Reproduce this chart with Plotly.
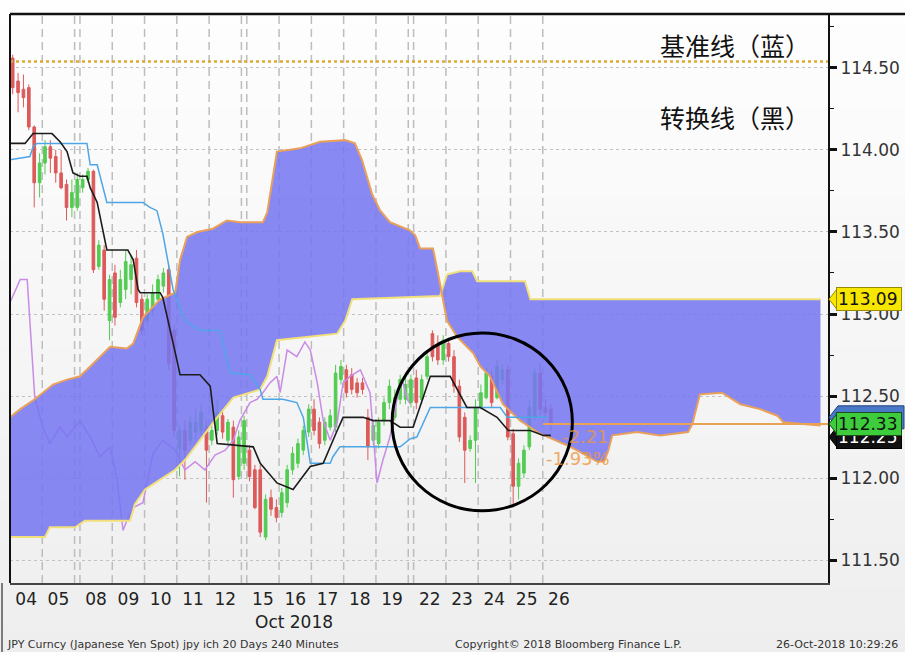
import plotly.graph_objects as go

# ---------------- data ----------------
days = ['04', '05', '08', '09', '10', '11', '12', '15', '16', '17', '18', '19',
        '22', '23', '24', '25', '26']
weekend_after = ['05', '12', '19']
bars_per_day = 6
month_label = 'Oct 2018'

opens = [114.56, 114.42, 114.37, 114.38, 114.14, 113.80, 113.92, 114.02, 113.96, 113.86,
         113.79, 113.65, 113.65, 113.77, 113.82, 113.87, 113.29, 113.39, 112.96, 113.25,
         113.07, 113.15, 113.21, 113.34, 113.09, 112.96, 113.02, 113.09, 113.17, 113.27,
         112.90, 112.18, 112.29, 112.23, 112.28, 112.29, 112.31, 112.23, 112.29, 112.38,
         112.23, 112.31, 112.01, 112.09, 112.17, 112.05, 112.05, 111.64, 111.88, 111.82,
         111.79, 111.85, 112.05, 112.09, 112.17, 112.28, 112.42, 112.34, 112.23, 112.31,
         112.31, 112.60, 112.66, 112.63, 112.58, 112.58, 112.37, 112.23, 112.21, 112.35,
         112.46, 112.37, 112.48, 112.48, 112.46, 112.61, 112.48, 112.62, 112.88, 112.81,
         112.72, 112.82, 112.74, 112.56, 112.37, 112.18, 112.23, 112.43, 112.49, 112.62,
         112.49, 112.60, 112.66, 112.27, 111.95, 112.03, 112.19, 112.37, 112.64, 112.43,
         112.42]
highs = [114.58, 114.47, 114.46, 114.40, 114.15, 113.98, 114.06, 114.06, 114.00, 114.00,
         113.82, 113.82, 113.86, 113.85, 113.89, 113.88, 113.45, 113.42, 113.24, 113.30,
         113.27, 113.39, 113.36, 113.39, 113.12, 113.12, 113.18, 113.24, 113.28, 113.30,
         112.93, 112.32, 112.35, 112.38, 112.42, 112.45, 112.35, 112.32, 112.48, 112.42,
         112.36, 112.35, 112.29, 112.38, 112.20, 112.08, 112.08, 111.90, 111.93, 111.87,
         111.94, 112.08, 112.19, 112.24, 112.32, 112.45, 112.48, 112.37, 112.37, 112.42,
         112.69, 112.72, 112.69, 112.67, 112.61, 112.61, 112.42, 112.35, 112.37, 112.49,
         112.60, 112.54, 112.63, 112.61, 112.63, 112.66, 112.63, 112.78, 112.90, 112.87,
         112.87, 112.85, 112.78, 112.60, 112.40, 112.26, 112.48, 112.57, 112.67, 112.66,
         112.72, 112.69, 112.69, 112.30, 112.12, 112.20, 112.48, 112.67, 112.70, 112.48,
         112.45]
lows = [114.34, 114.23, 114.26, 114.12, 113.65, 113.71, 113.85, 113.86, 113.80, 113.76,
        113.57, 113.59, 113.63, 113.74, 113.80, 113.25, 113.27, 113.02, 112.84, 112.93,
        113.04, 113.09, 113.12, 113.04, 112.87, 112.93, 112.99, 113.06, 113.13, 112.66,
        112.25, 112.01, 111.99, 112.20, 112.23, 112.26, 111.85, 112.20, 112.26, 112.24,
        112.20, 111.88, 111.99, 112.05, 111.98, 111.81, 111.64, 111.62, 111.77, 111.73,
        111.76, 111.82, 112.02, 112.06, 112.14, 112.25, 112.26, 112.18, 112.20, 112.29,
        112.28, 112.57, 112.49, 112.51, 112.49, 112.51, 112.11, 112.20, 112.18, 112.32,
        112.42, 112.35, 112.45, 112.45, 112.43, 112.42, 112.45, 112.60, 112.71, 112.69,
        112.69, 112.71, 112.52, 112.22, 111.97, 112.16, 111.97, 112.42, 112.48, 112.43,
        112.48, 112.57, 112.23, 111.82, 111.87, 112.00, 112.17, 112.35, 112.38, 112.37,
        112.29]
closes = [114.38, 114.35, 114.32, 114.14, 113.80, 113.92, 114.02, 113.95, 113.86, 113.77,
          113.65, 113.74, 113.82, 113.82, 113.87, 113.27, 113.42, 113.09, 113.21, 112.98,
          113.21, 113.32, 113.30, 113.07, 112.90, 113.09, 113.13, 113.21, 113.25, 112.70,
          112.29, 112.29, 112.17, 112.34, 112.34, 112.40, 112.17, 112.29, 112.40, 112.28,
          112.34, 111.99, 112.25, 112.35, 112.01, 111.82, 111.67, 111.87, 111.81, 111.76,
          111.91, 112.05, 112.15, 112.21, 112.29, 112.42, 112.29, 112.21, 112.34, 112.38,
          112.64, 112.68, 112.52, 112.54, 112.52, 112.54, 112.19, 112.32, 112.34, 112.46,
          112.56, 112.49, 112.60, 112.57, 112.60, 112.46, 112.60, 112.74, 112.74, 112.72,
          112.84, 112.74, 112.56, 112.25, 112.17, 112.23, 112.43, 112.52, 112.64, 112.46,
          112.68, 112.66, 112.25, 111.95, 112.09, 112.17, 112.43, 112.64, 112.42, 112.40,
          112.33]

# conversion line (black)
tenkan_x = [-0.5, 2.3, 3.8, 7.3, 8.8, 10.1, 11.2, 12.5, 13.8, 14.4, 15.7, 17.5, 21.4, 22.4,
            23.3, 23.7, 26.1, 27.4, 27.9, 29.2, 30.5, 31.1, 34.8, 36.7, 38.0, 44.7, 46.0,
            49.1, 52.1, 55.3, 57.7, 60.3, 61.4, 65.1, 67.0, 70.1, 72.0, 74.4, 77.6, 81.3,
            84.4, 86.9, 90.0, 92.1, 96.2, 98.6, 100.0]
tenkan_y = [114.04, 114.04, 114.10, 114.10, 114.05, 113.99, 113.86, 113.84, 113.84, 113.77,
            113.68, 113.39, 113.39, 113.33, 113.15, 113.13, 113.13, 113.13, 113.10, 112.90,
            112.72, 112.63, 112.63, 112.56, 112.21, 112.19, 112.09, 111.97, 111.93, 112.07,
            112.09, 112.29, 112.37, 112.37, 112.35, 112.35, 112.31, 112.31, 112.62, 112.62,
            112.43, 112.43, 112.37, 112.29, 112.29, 112.26, 112.26]
# base line (blue)
kijun_x = [-0.5, 3.2, 3.8, 4.5, 13.8, 14.4, 15.7, 17.5, 24.2, 25.5, 26.8, 27.9, 29.8, 32.0,
           34.8, 38.5, 40.4, 44.1, 46.0, 46.5, 50.2, 52.8, 54.0, 55.3, 59.0, 59.5, 60.8,
           72.0, 73.9, 75.1, 77.6, 90.6, 91.9, 99.5]
kijun_y = [113.94, 113.96, 114.02, 114.04, 114.04, 113.91, 113.91, 113.68, 113.68, 113.65,
           113.63, 113.49, 113.15, 112.96, 112.90, 112.90, 112.64, 112.63, 112.54, 112.48,
           112.48, 112.46, 112.37, 112.09, 112.09, 112.13, 112.19, 112.19, 112.24, 112.25,
           112.43, 112.43, 112.37, 112.37]
# lagging span (purple)
chikou_x = [-0.5, 1.4, 2.7, 4.1, 5.6, 6.9, 8.8, 10.1, 12.5, 14.4, 16.2, 18.1, 19.4, 20.5,
            21.2, 22.4, 24.2, 26.1, 27.9, 30.2, 32.0, 33.9, 35.7, 37.6, 39.5, 41.0, 42.2,
            44.1, 45.4, 46.5, 47.8, 49.1, 49.7, 51.0, 52.8, 54.3, 55.3, 56.6, 57.7, 59.0,
            60.3, 61.4, 62.7, 64.6, 66.4, 67.7, 68.8, 70.1, 71.4, 72.4, 73.3, 73.9]
chikou_y = [113.07, 113.21, 113.21, 112.49, 112.31, 112.21, 112.31, 112.25, 112.35, 112.25,
            112.13, 112.19, 111.99, 111.68, 111.74, 111.82, 111.85, 112.15, 112.23, 112.17,
            112.05, 112.10, 112.05, 112.14, 112.17, 112.23, 112.35, 112.46, 112.48, 112.52,
            112.58, 112.62, 112.52, 112.78, 112.74, 112.83, 112.78, 112.58, 112.35, 112.23,
            112.34, 112.58, 112.62, 112.66, 112.52, 111.97, 112.11, 112.25, 112.48, 112.60,
            112.48, 112.45]
# leading span A (orange edge)
spanA_x = [-0.5, 1.4, 4.1, 7.5, 10.1, 12.5, 14.4, 18.1, 21.2, 22.4, 24.2, 27.4, 30.2, 31.1,
           32.4, 34.3, 37.2, 39.8, 42.2, 46.5, 47.3, 49.1, 53.4, 57.1, 61.8, 63.6, 64.9,
           66.8, 68.3, 70.1, 73.8, 74.8, 75.7, 78.1, 78.9, 79.8, 80.7, 82.6, 85.6, 86.9,
           88.7, 91.1, 94.3, 98.0, 100.8, 103.0, 105.4, 108.6, 109.9, 110.7, 111.4, 116.0,
           120.3, 125.5, 126.3, 127.7, 131.8, 135.2, 138.9, 142.1, 143.2, 150.1]
spanA_y = [112.37, 112.42, 112.48, 112.57, 112.60, 112.62, 112.68, 112.80, 112.79, 112.82,
           112.98, 113.09, 113.13, 113.33, 113.47, 113.50, 113.52, 113.57, 113.56, 113.56,
           113.62, 113.99, 114.01, 114.05, 114.06, 114.04, 113.94, 113.73, 113.63, 113.56,
           113.51, 113.48, 113.40, 113.40, 113.27, 113.11, 112.96, 112.86, 112.76, 112.68,
           112.62, 112.45, 112.35, 112.27, 112.23, 112.20, 112.16, 112.10, 112.10, 112.17,
           112.26, 112.28, 112.26, 112.28, 112.33, 112.51, 112.52, 112.45, 112.42, 112.38,
           112.34, 112.32]
# leading span B (yellow edge)
spanB_x = [-0.5, 6.0, 6.9, 11.6, 13.4, 21.8, 22.7, 24.6, 27.4, 30.2, 32.0, 34.8, 38.0, 41.0,
           46.0, 47.3, 49.1, 60.3, 61.8, 63.1, 79.4, 80.7, 83.1, 85.4, 86.3, 95.2, 96.2, 150.1]
spanB_y = [111.64, 111.64, 111.70, 111.70, 111.74, 111.74, 111.84, 111.93, 111.99, 112.05,
           112.11, 112.23, 112.37, 112.49, 112.54, 112.62, 112.84, 112.88, 112.96, 113.09,
           113.11, 113.24, 113.26, 113.26, 113.20, 113.20, 113.09, 113.09]

last_price = 112.33
cloud_tag = 113.09
kijun_tag = 112.37
low_tag = 112.25
high_line = 114.54
change_abs = '-2.21'
change_pct = '-1.93%'
price_ticks = [111.5, 112.0, 112.5, 113.0, 113.5, 114.0, 114.5]

label_base = '基准线（蓝）'
label_conv = '转换线（黑）'
footer_left = 'JPY Curncy (Japanese Yen Spot) jpy ich 20 Days 240 Minutes'
footer_mid = 'Copyright© 2018 Bloomberg Finance L.P.'
footer_right = '26-Oct-2018 10:29:26'

# ---------------- derived positions ----------------
bar_x = list(range(len(opens)))
starts = []
s = 0
for d in days:
    starts.append(s)
    s += bars_per_day
    if d in weekend_after:
        s += 1
day_centers = [st + (bars_per_day - 1) / 2 for st in starts]
boundaries = []
for i in range(1, len(days)):
    if days[i - 1] in weekend_after:
        boundaries.append(starts[i - 1] + bars_per_day - 0.5)
    boundaries.append(starts[i] - 0.5)

X_MIN, X_MAX = -0.5, 151.5
Y_MIN, Y_MAX = 111.36, 114.829

FIG_W, FIG_H = 905, 652
ML, MR, MT, MB = 10, 77, 14, 69
PW = FIG_W - ML - MR
PH = FIG_H - MT - MB


def px_x(px):
    return (px - ML) / PW


def px_y(py):
    return (FIG_H - MB - py) / PH


fig = go.Figure()

# lagging span (under the cloud)
fig.add_trace(go.Scatter(x=chikou_x, y=chikou_y, mode='lines',
                         line=dict(color='#c98be6', width=1.5), hoverinfo='skip'))
# cloud
fig.add_trace(go.Scatter(x=spanB_x, y=spanB_y, mode='lines',
                         line=dict(color='#f1e07a', width=2), hoverinfo='skip'))
fig.add_trace(go.Scatter(x=spanA_x, y=spanA_y, mode='lines', fill='tonexty',
                         fillcolor='rgba(118,118,242,0.86)',
                         line=dict(color='#e9a05a', width=2), hoverinfo='skip'))
# base & conversion lines
fig.add_trace(go.Scatter(x=kijun_x, y=kijun_y, mode='lines',
                         line=dict(color='#4ea6e6', width=1.5), hoverinfo='skip'))
fig.add_trace(go.Scatter(x=tenkan_x, y=tenkan_y, mode='lines',
                         line=dict(color='#1c1c1c', width=1.6), hoverinfo='skip'))
# candles
fig.add_trace(go.Candlestick(x=bar_x, open=opens, high=highs, low=lows, close=closes,
                             increasing=dict(line=dict(color='#52cc52', width=1),
                                             fillcolor='#52cc52'),
                             decreasing=dict(line=dict(color='#dc5a5a', width=1),
                                             fillcolor='#dc5a5a'),
                             whiskerwidth=0, hoverinfo='skip'))
# last price line & high dotted line
fig.add_trace(go.Scatter(x=[bar_x[-1] - 1.5, X_MAX], y=[last_price, last_price], mode='lines',
                         line=dict(color='#eaa255', width=2), hoverinfo='skip'))
fig.add_trace(go.Scatter(x=[X_MIN, X_MAX], y=[high_line, high_line], mode='lines',
                         line=dict(color='#dcaa30', width=2.5, dash='dot'), hoverinfo='skip'))

shapes = []
# background gradient
n_bands = 30
y_top, y_bot = px_y(0), px_y(FIG_H)
for i in range(n_bands):
    t = i / (n_bands - 1)
    c = int(round(254 - 16 * t))
    shapes.append(dict(type='rect', xref='paper', yref='paper',
                       x0=px_x(0) - 0.01, x1=px_x(FIG_W) + 0.01,
                       y0=y_top - (y_top - y_bot) * (i + 1) / n_bands - 0.002,
                       y1=y_top - (y_top - y_bot) * i / n_bands,
                       fillcolor=f'rgb({c},{c},{c})', line=dict(width=0), layer='below'))
# vertical day grid
for b in boundaries:
    shapes.append(dict(type='line', xref='x', yref='paper', x0=b, x1=b, y0=0, y1=1,
                       line=dict(color='#bdbdbd', width=1.5, dash='8px,5px'), layer='below'))
# frame lines
shapes.append(dict(type='line', xref='paper', yref='paper', x0=0, x1=px_x(FIG_W), y0=1, y1=1,
                   line=dict(color='#111', width=2.5), layer='above'))
shapes.append(dict(type='line', xref='paper', yref='paper', x0=0, x1=0, y0=0, y1=1,
                   line=dict(color='#111', width=2), layer='above'))
shapes.append(dict(type='line', xref='paper', yref='paper', x0=px_x(2), x1=px_x(2),
                   y0=px_y(FIG_H), y1=0, line=dict(color='#555', width=1.5), layer='above'))
# circle highlight
shapes.append(dict(type='circle', xref='x', yref='y', x0=70.5, x1=104.0, y0=111.80, y1=112.884,
                   line=dict(color='#000', width=3), layer='above'))
# hidden kijun tag (only its top edge peeks out)
half = 11.5 / 164.0
tip, body = px_x(829), px_x(838)
shapes.append(dict(type='path', xref='paper', yref='y',
                   path=(f'M {tip},{kijun_tag} L {body},{kijun_tag + half} '
                         f'L {px_x(904)},{kijun_tag + half} L {px_x(904)},{kijun_tag - half} '
                         f'L {body},{kijun_tag - half} Z'),
                   fillcolor='#4a78c8', line=dict(color='#23407a', width=1), layer='above'))
tag_specs = [(low_tag, '#111111', '#ffffff', '#000000'),
             (last_price, '#3ccc3c', '#111111', '#1d4d1d'),
             (cloud_tag, '#f6e600', '#111111', '#9a8a00')]
for val, col, fg, edge in tag_specs:
    shapes.append(dict(type='path', xref='paper', yref='y',
                       path=f'M {tip},{val} L {body},{val + half} L {body},{val - half} Z',
                       fillcolor=col, line=dict(color=edge, width=1), layer='above'))

annotations = []
for val, col, fg, edge in tag_specs:
    annotations.append(dict(xref='paper', yref='y', x=px_x(836), y=val, xanchor='left',
                            yanchor='middle', text=f'{val:.2f}', showarrow=False,
                            bgcolor=col, bordercolor=edge, borderwidth=1, borderpad=1,
                            width=62, height=20, align='left',
                            font=dict(family='DejaVu Sans', size=17, color=fg)))
annotations.append(dict(xref='x', yref='y', x=106.4, y=112.256, text=change_abs, showarrow=False,
                        yanchor='middle',
                        font=dict(family='DejaVu Sans', size=18, color='rgba(236,150,60,0.8)')))
annotations.append(dict(xref='x', yref='y', x=105.1, y=112.122, text=change_pct, showarrow=False,
                        yanchor='middle',
                        font=dict(family='DejaVu Sans', size=18, color='rgba(236,150,60,0.8)')))
annotations.append(dict(xref='paper', yref='y', x=px_x(812), y=114.64, xanchor='right',
                        yanchor='middle', text=label_base, showarrow=False,
                        font=dict(family='Noto Sans CJK SC', size=25, color='#111')))
annotations.append(dict(xref='paper', yref='y', x=px_x(812), y=114.20, xanchor='right',
                        yanchor='middle', text=label_conv, showarrow=False,
                        font=dict(family='Noto Sans CJK SC', size=25, color='#111')))
annotations.append(dict(xref='paper', yref='paper', x=px_x(294), y=px_y(622), text=month_label,
                        showarrow=False, yanchor='middle',
                        font=dict(family='DejaVu Sans', size=17, color='#222')))
annotations.append(dict(xref='paper', yref='paper', x=px_x(5), y=px_y(644), xanchor='left',
                        yanchor='middle', text=footer_left, showarrow=False,
                        font=dict(family='DejaVu Sans', size=11, color='#333')))
annotations.append(dict(xref='paper', yref='paper', x=px_x(453), y=px_y(644), xanchor='left',
                        yanchor='middle', text=footer_mid, showarrow=False,
                        font=dict(family='DejaVu Sans', size=11, color='#333')))
annotations.append(dict(xref='paper', yref='paper', x=px_x(900), y=px_y(644), xanchor='right',
                        yanchor='middle', text=footer_right, showarrow=False,
                        font=dict(family='DejaVu Sans', size=11, color='#333')))

fig.update_layout(
    width=FIG_W, height=FIG_H,
    margin=dict(l=ML, r=MR, t=MT, b=MB),
    paper_bgcolor='#f0f0f0', plot_bgcolor='rgba(0,0,0,0)',
    showlegend=False, shapes=shapes, annotations=annotations,
    xaxis=dict(range=[X_MIN, X_MAX], showgrid=False, zeroline=False,
               tickmode='array', tickvals=day_centers, ticktext=days, ticks='',
               tickfont=dict(family='DejaVu Sans', size=17, color='#222'),
               showline=True, linecolor='#444', linewidth=2, automargin=False,
               rangeslider=dict(visible=False), fixedrange=True),
    yaxis=dict(side='right', range=[Y_MIN, Y_MAX], tickmode='array', tickvals=price_ticks,
               ticktext=[f'{v:.2f}' for v in price_ticks], automargin=False,
               showgrid=True, gridcolor='#c2c2c2', gridwidth=1, griddash='3px,3px',
               zeroline=False, ticks='outside', ticklen=7, tickwidth=3, tickcolor='#111',
               showline=True, linecolor='#111', linewidth=2,
               tickfont=dict(family='DejaVu Sans', size=17, color='#333'),
               minor=dict(dtick=0.25, tick0=111.5, ticks='outside', ticklen=4,
                          tickcolor='#111', tickwidth=1, showgrid=False),
               fixedrange=True),
)

fig.write_html('out.html', config={'displayModeBar': False},
               post_script="document.body.style.margin='0px';document.body.style.overflow='hidden';")
